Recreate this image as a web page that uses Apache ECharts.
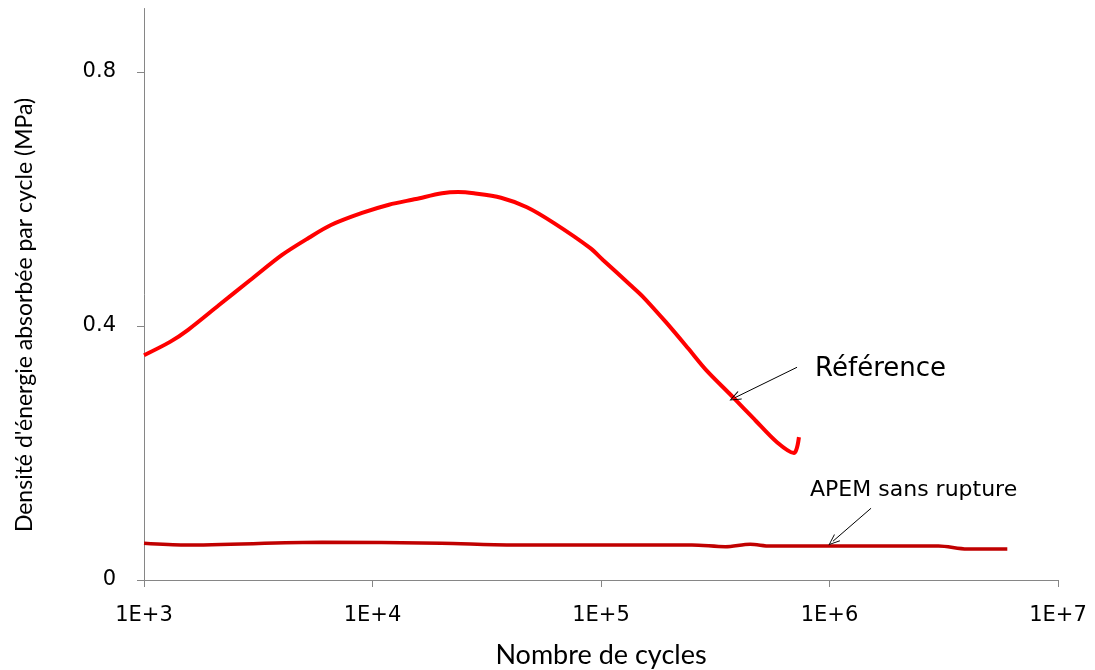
<!DOCTYPE html>
<html><head><meta charset="utf-8">
<script src="https://cdn.jsdelivr.net/npm/echarts@6/dist/echarts.min.js"></script>
<style>html,body{margin:0;padding:0;background:#fff}#c{width:1095px;height:670px}</style>
</head><body><div id="c"></div>
<script>
// Data
const refCycles = [1000, 1300, 1560, 2130, 2910, 4020, 5270, 6580, 9000, 11800, 15500, 20150, 23700, 27800, 36500, 47400, 62300, 89500, 102000, 134000, 152700, 192400, 240400, 288000, 378000, 472000, 589000, 699000, 735000];
const refEnergy = [0.354, 0.375, 0.394, 0.433, 0.472, 0.512, 0.539, 0.559, 0.578, 0.591, 0.600, 0.609, 0.611, 0.609, 0.602, 0.587, 0.562, 0.523, 0.504, 0.465, 0.446, 0.406, 0.365, 0.331, 0.288, 0.252, 0.217, 0.200, 0.225];
const apemCycles = [1000, 1500, 6000, 20000, 40000, 250000, 350000, 450000, 550000, 3000000, 4000000, 6000000];
const apemEnergy = [0.0578, 0.0551, 0.0594, 0.0578, 0.0551, 0.0551, 0.0524, 0.0562, 0.0535, 0.0535, 0.0488, 0.0488];
const xTickValues = [1e3, 1e4, 1e5, 1e6, 1e7];
const xTickLabels = ['1E+3', '1E+4', '1E+5', '1E+6', '1E+7'];
const yTickValues = [0, 0.4, 0.8];
const yTickLabels = ['0', '0.4', '0.8'];
const seriesNames = ['Référence', 'APEM sans rupture'];
const xTitle = 'Nombre de cycles';
const yTitle = "Densité d'énergie absorbée par cycle (MPa)";
// annotation anchors (data space)
const refArrow = [[721000, 0.335], [385000, 0.287]];
const refLabelAt = [865000, 0.332];
const apemArrow = [[1520000, 0.113], [1035000, 0.061]];
const apemLabelAt = [822000, 0.142];

const chevron = 'path://M-5,10 L0,0 L5,10 L4.2,10.6 L0,2 L-4.2,10.6 Z';
const zip = (a, b) => a.map((v, i) => [v, b[i]]);

const chart = echarts.init(document.getElementById('c'), null, {renderer: 'canvas'});
const axisGray = '#868686';
const lbl = {fontFamily: 'DejaVu Sans', fontSize: 21, color: '#000'};

function annot(arrow, at, text, size) {
  return {
    markLine: {
      silent: true, animation: false,
      symbol: ['none', chevron], symbolSize: [9, 12],
      lineStyle: {color: '#000', width: 1, type: 'solid'},
      label: {show: false},
      data: [[{coord: arrow[0]}, {coord: arrow[1]}]]
    },
    markPoint: {
      silent: true, animation: false,
      symbol: 'circle', symbolSize: 0,
      label: {show: true, position: 'right', distance: 0, formatter: text,
        fontFamily: 'DejaVu Sans', fontSize: size, color: '#000'},
      data: [{coord: at}]
    }
  };
}

chart.setOption({
  animation: false,
  grid: {left: 144, right: 37, top: 8.5, bottom: 90, containLabel: false, outerBoundsMode: 'none'},
  xAxis: {
    type: 'log', logBase: 10, min: 1e3, max: 1e7,
    name: xTitle, nameLocation: 'middle', nameGap: 62,
    nameTextStyle: {fontFamily: 'Lato', fontSize: 27, color: '#000'},
    axisLine: {show: true, lineStyle: {color: axisGray, width: 1}},
    axisTick: {show: true, length: 7, lineStyle: {color: axisGray}, customValues: xTickValues},
    axisLabel: Object.assign({margin: 25, customValues: xTickValues,
      formatter: v => xTickLabels[Math.round(Math.log10(v)) - 3]}, lbl),
    splitLine: {show: false}, minorTick: {show: false}
  },
  yAxis: {
    type: 'value', min: 0, max: 0.9,
    axisLine: {show: true, lineStyle: {color: axisGray, width: 1}},
    axisTick: {show: true, length: 7, lineStyle: {color: axisGray}, customValues: yTickValues},
    axisLabel: Object.assign({margin: 28, customValues: yTickValues,
      formatter: v => yTickLabels[yTickValues.findIndex(t => Math.abs(t - v) < 1e-9)]}, lbl),
    splitLine: {show: false}
  },
  graphic: [{
    type: 'text', x: 25, y: 315, rotation: Math.PI / 2,
    style: {text: yTitle, fontFamily: 'Lato', fontSize: 23, fill: '#000', align: 'center', verticalAlign: 'middle'}
  }],
  series: [
    Object.assign({
      name: seriesNames[0], type: 'line', data: zip(refCycles, refEnergy),
      symbol: 'none', smooth: 0.3, lineStyle: {color: '#ff0000', width: 4}
    }, annot(refArrow, refLabelAt, seriesNames[0], 26)),
    Object.assign({
      name: seriesNames[1], type: 'line', data: zip(apemCycles, apemEnergy),
      symbol: 'none', smooth: 0.3, lineStyle: {color: '#c00000', width: 3.5}
    }, annot(apemArrow, apemLabelAt, seriesNames[1], 22))
  ]
});
</script></body></html>
